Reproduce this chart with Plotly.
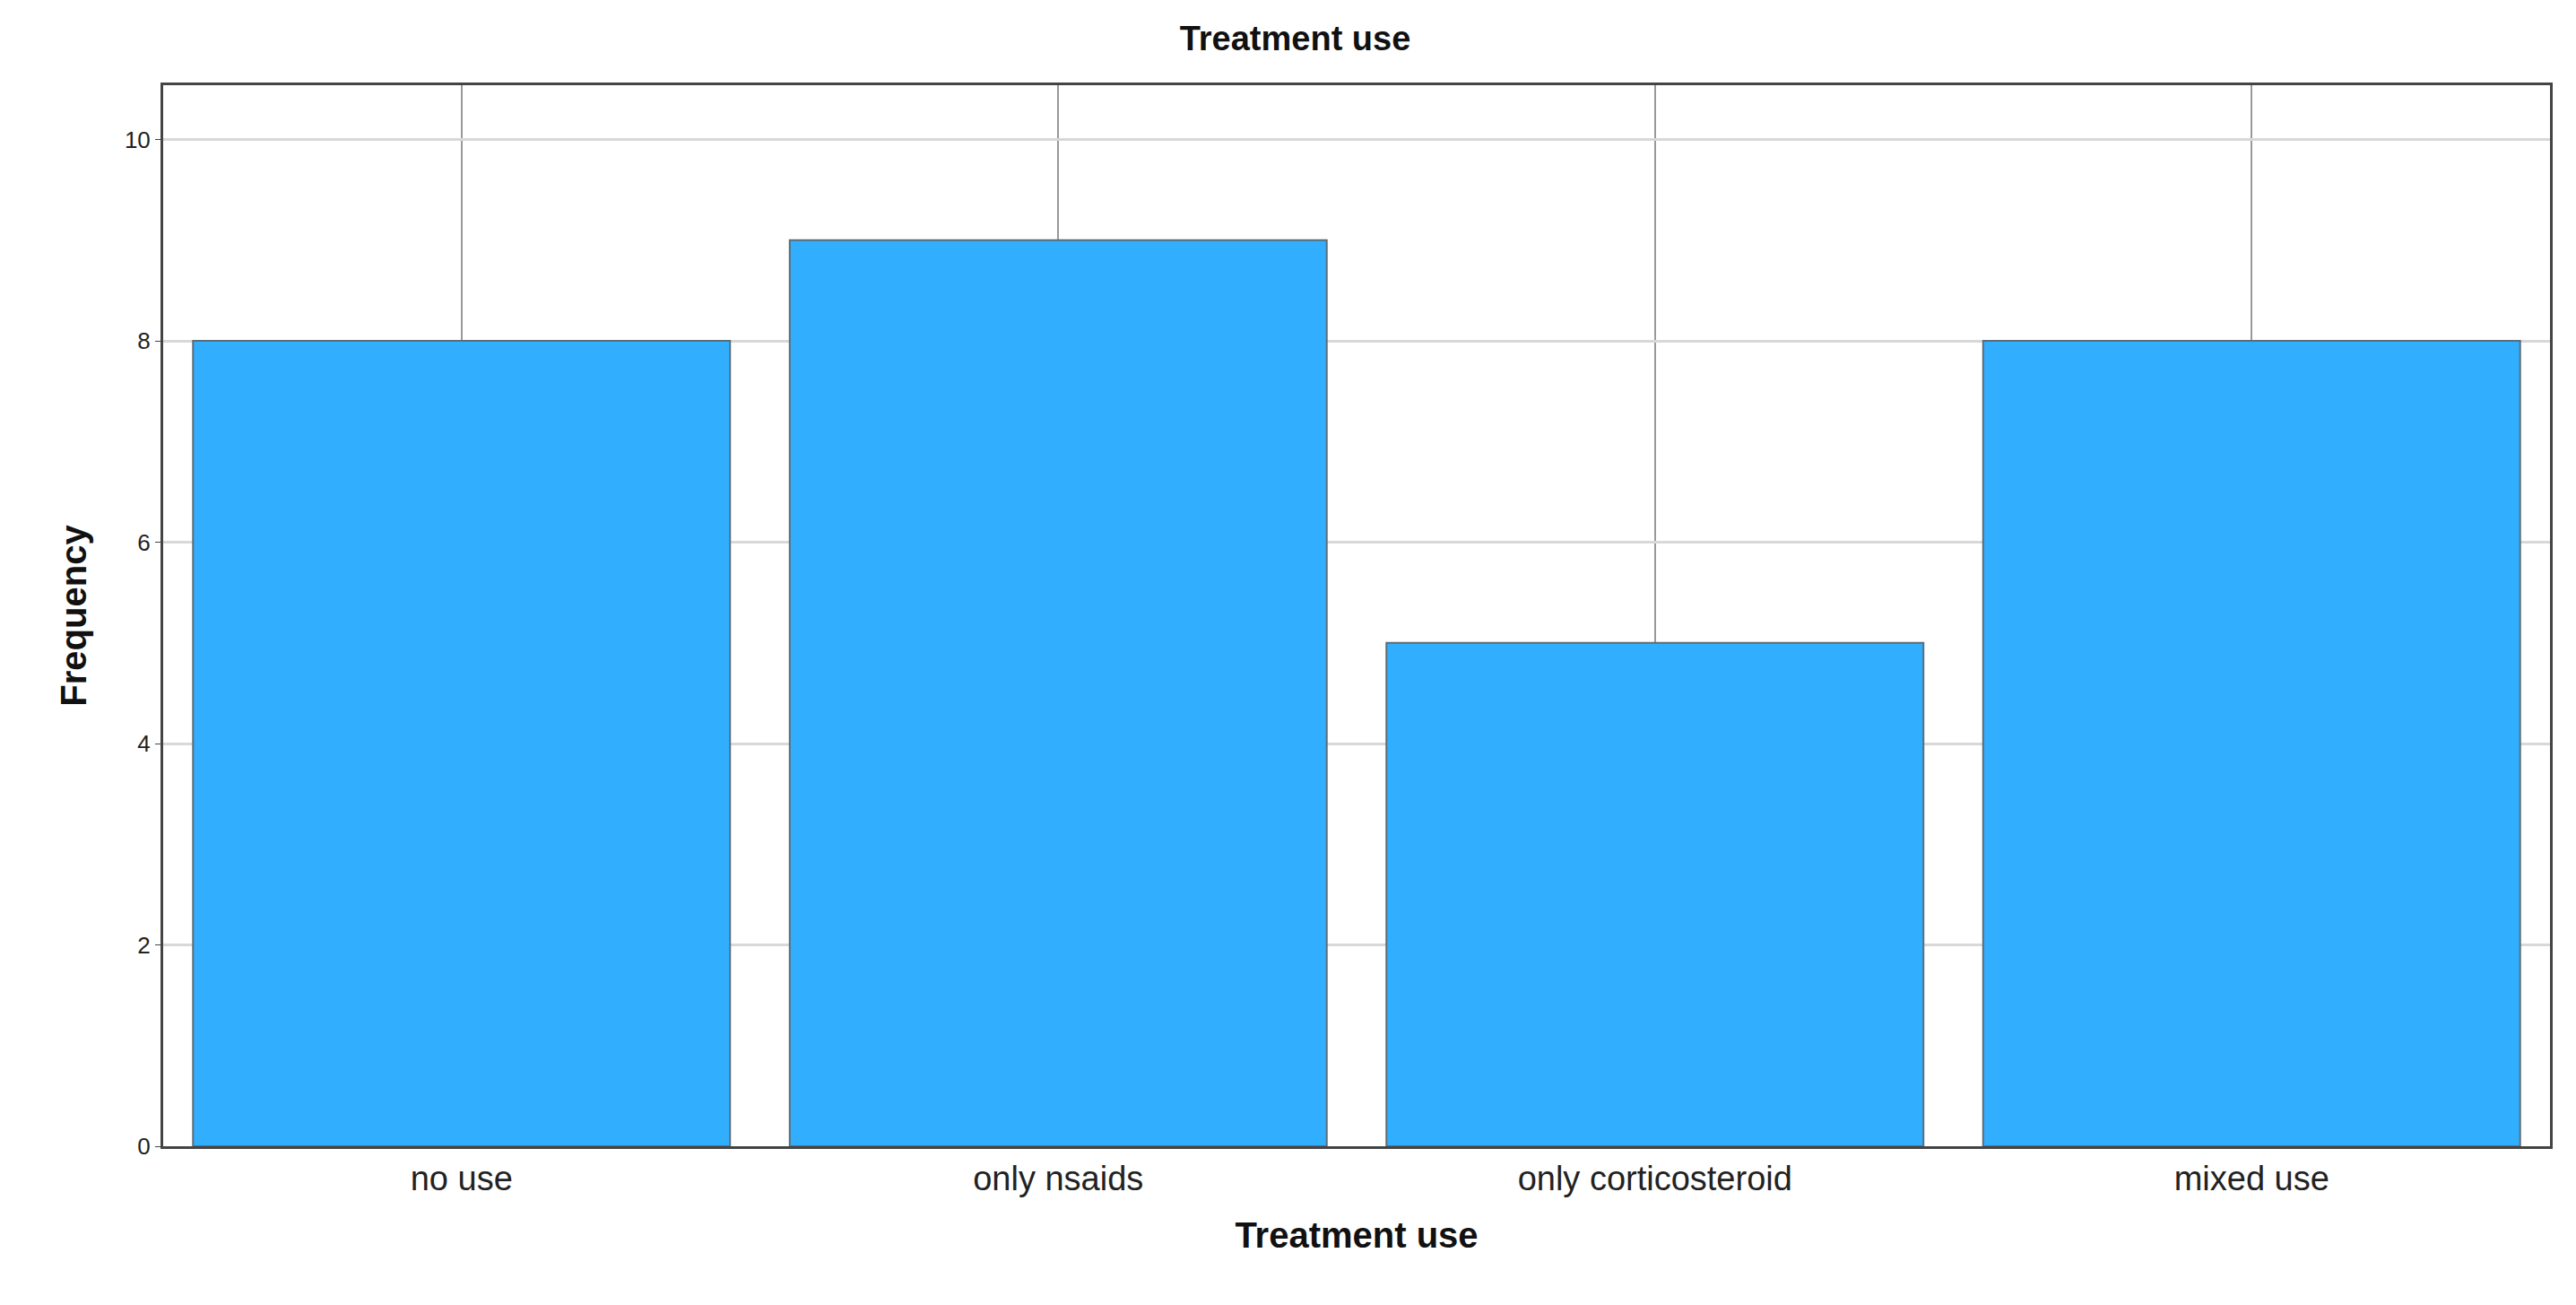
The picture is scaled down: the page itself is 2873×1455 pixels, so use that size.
import plotly.graph_objects as go

categories = ["no use", "only nsaids", "only corticosteroid", "mixed use"]
frequency = [8, 9, 5, 8]
y_ticks = [0, 2, 4, 6, 8, 10]

fig = go.Figure(go.Bar(
    x=categories, y=frequency, width=0.9,
    marker=dict(color="#31AEFE", line=dict(color="#5A6E7A", width=2)),
))

fig.update_layout(
    width=2873, height=1455,
    paper_bgcolor="white", plot_bgcolor="white",
    margin=dict(l=174, r=37, t=87, b=185),
    font=dict(family="Arial, Liberation Sans, sans-serif", color="#222"),
    title=dict(text="<b>Treatment use</b>", x=0.5, xanchor="center", y=0.985, yanchor="top",
               font=dict(size=38, color="#111")),
    showlegend=False,
)
fig.update_xaxes(
    title=dict(text="<b>Treatment use</b>", font=dict(size=40, color="#111"), standoff=30),
    tickfont=dict(size=38, color="#222"),
    showgrid=True, gridcolor="#999", gridwidth=2,
    showline=True, linecolor="#444", linewidth=3, mirror=True,
    ticks="", layer="below traces",
)
fig.update_yaxes(
    title=dict(text="<b>Frequency</b>", font=dict(size=40, color="#111"), standoff=30),
    range=[0, 10.54], tickvals=y_ticks, tickfont=dict(size=26, color="#222"),
    showgrid=True, gridcolor="#d8d8d8", gridwidth=3,
    showline=True, linecolor="#444", linewidth=3, mirror=True,
    ticks="outside", ticklen=6, tickcolor="#444", zeroline=False,
)

fig.write_html("out.html")
